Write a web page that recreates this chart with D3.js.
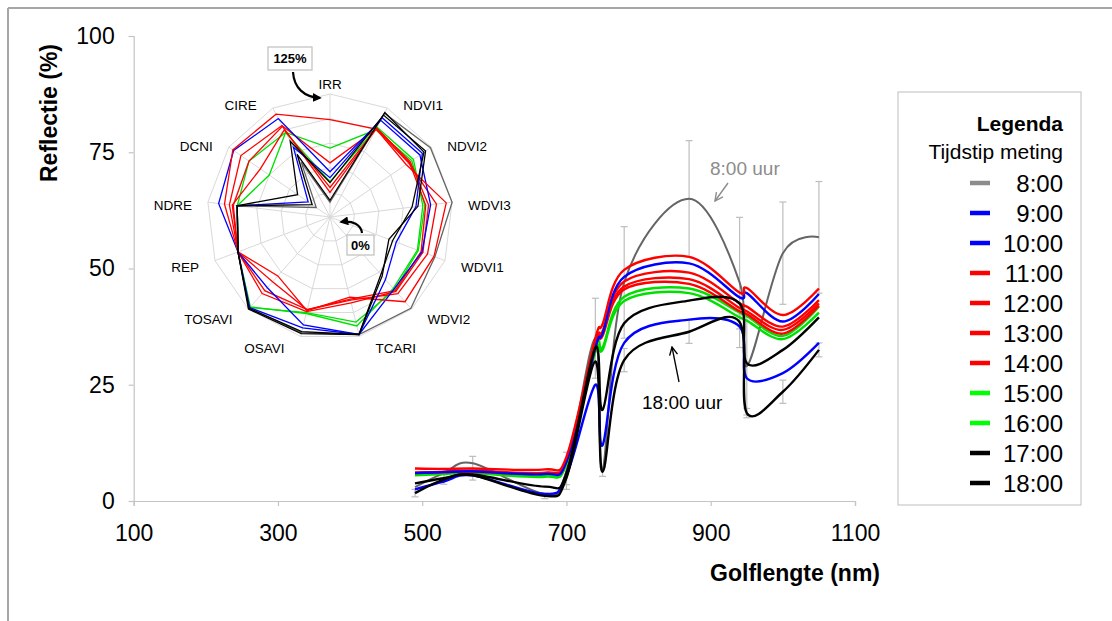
<!DOCTYPE html>
<html><head><meta charset="utf-8">
<script src="https://cdn.jsdelivr.net/npm/d3@7"></script>
<style>
html,body{margin:0;padding:0;background:#fff;}
svg{display:block;font-family:"Liberation Sans",Arial,sans-serif;}
</style></head><body>
<svg id="chart" width="1112" height="621"></svg>
<script>
// ---------- DATA ----------
const wavelengths = [490, 530, 570, 670, 700, 740, 750, 780, 870, 940, 950, 1000, 1050];
const times = ["8:00","9:00","10:00","11:00","12:00","13:00","14:00","15:00","16:00","17:00","18:00"];
const seriesColors = ["#656565","#0000ff","#0000ff","#ff0000","#ff0000","#ff0000","#ff0000","#00e000","#00e000","#000000","#000000"];
const legendColors = ["#8c8c8c","#0000ff","#0000ff","#ff0000","#ff0000","#ff0000","#ff0000","#00ff00","#00ff00","#000000","#000000"];

const refl_0800 = [3.0, 6.0, 8.1, 1.5, 6.5, 35, 6.5, 47, 65, 47, 29, 53.3, 56.7];
const refl_0900 = [2.5, 4.2, 5.5, 1.5, 5.5, 25, 12, 34, 39, 37.5, 26.4, 27.5, 34];
const refl_1000 = [6.0, 6.2, 6.4, 5.8, 8.5, 33, 36, 48.2, 51.1, 43.8, 44.7, 38.6, 44.5];
const refl_1100 = [7.0, 6.9, 7.0, 6.8, 9.5, 35, 38, 49.7, 52.5, 44.8, 45.8, 40, 45.7];
const refl_1200 = [6.1, 6.3, 6.5, 6.1, 9.0, 34, 36.5, 47.2, 49.1, 42.5, 41.8, 37.5, 43.2];
const refl_1300 = [6.1, 6.2, 6.4, 6.0, 8.8, 33.5, 36, 46.1, 47.7, 41.5, 40.8, 36.8, 42.5];
const refl_1400 = [6.0, 6.2, 6.3, 5.9, 8.6, 33, 35.5, 45.5, 46.7, 40.8, 40.2, 36, 42];
const refl_1500 = [5.7, 6.0, 6.2, 5.4, 8.1, 33.5, 33, 43.9, 45.7, 40.5, 39.8, 35.5, 41.8];
const refl_1600 = [5.5, 5.8, 6.0, 5.2, 8.0, 32, 32.5, 43, 44.7, 39.5, 38.8, 34.8, 40.5];
const refl_1700 = [3.8, 4.9, 5.7, 3.1, 6.0, 33, 19.6, 38.2, 43.1, 42.5, 29.6, 32.5, 39.5];
const refl_1800 = [1.7, 4.6, 5.5, 1.1, 5.0, 30, 6.3, 30.3, 36.4, 38.5, 18.9, 23.5, 32.5];

const err_0800 = [0, 1, 1.5, 0, 4, 8.6, 0, 12, 12.5, 14, 10.5, 11, 12];
const err_1800 = [0.8, 1, 1, 0.6, 1.5, 0, 1, 2.5, 2.5, 1.5, 1, 2.5, 1.5];

const xTicks = [100, 300, 500, 700, 900, 1100];
const yTicks = [0, 25, 50, 75, 100];

const radarAxes = ["IRR","NDVI1","NDVI2","WDVI3","WDVI1","WDVI2","TCARI","OSAVI","TOSAVI","REP","NDRE","DCNI","CIRE"];
const radarRings = [25, 50, 75, 100, 125];
const radar_0800 = [15, 119, 124, 125, 114, 124, 123, 121, 124, 100, 95, 17, 63];
const radar_0900 = [40, 114, 114, 88, 72, 85, 123, 116, 123, 100, 95, 27, 80];
const radar_1000 = [46, 111, 111, 103, 100, 98, 123, 113, 96, 100, 114, 119, 113];
const radar_1100 = [99, 101, 94, 119, 113, 115, 84, 98, 80, 100, 108, 120, 118];
const radar_1200 = [55, 101, 97, 109, 106, 104, 87, 97, 88, 100, 103, 110, 105];
const radar_1300 = [25, 102, 99, 101, 101, 101, 90, 99, 104, 100, 99, 100, 104];
const radar_1400 = [30, 102, 98, 98, 99, 100, 86, 97, 100, 100, 100, 86, 100];
const radar_1500 = [70, 100, 101, 97, 96, 99, 110, 100, 123, 100, 95, 100, 97];
const radar_1600 = [36, 103, 103, 95, 95, 97, 114, 101, 122, 100, 95, 75, 97];
const radar_1700 = [35, 117, 118, 90, 64, 80, 123, 122, 125, 100, 95, 40, 87];
const radar_1800 = [17, 120, 116, 84, 68, 78, 123, 120, 124, 100, 95, 22, 72];

const reflSeries = [refl_0800, refl_0900, refl_1000, refl_1100, refl_1200, refl_1300, refl_1400, refl_1500, refl_1600, refl_1700, refl_1800];
const radarSeries = [radar_0800, radar_0900, radar_1000, radar_1100, radar_1200, radar_1300, radar_1400, radar_1500, radar_1600, radar_1700, radar_1800];

// ---------- CHART ----------
const svg = d3.select("#chart");
svg.append("rect").attr("width",1112).attr("height",621).attr("fill","#fff");
svg.append("line").attr("x1",8).attr("y1",8).attr("x2",1112).attr("y2",8).attr("stroke","#a6a6a6").attr("stroke-width",2);
svg.append("line").attr("x1",8).attr("y1",8).attr("x2",8).attr("y2",621).attr("stroke","#a6a6a6").attr("stroke-width",2);

const x = d3.scaleLinear().domain([100,1100]).range([133.7,855]);
const y = d3.scaleLinear().domain([0,100]).range([501,36]);

const xAxis = svg.append("g").attr("transform","translate(0,501)")
  .call(d3.axisBottom(x).tickValues(xTicks).tickSize(5).tickPadding(19).tickFormat(d3.format("d")));
const yAxis = svg.append("g").attr("transform","translate(133.7,0)")
  .call(d3.axisLeft(y).tickValues(yTicks).tickSize(5).tickPadding(14));
[xAxis,yAxis].forEach(a=>{
  a.selectAll("path,line").attr("stroke","#c4c4c4").attr("stroke-width",1.2);
  a.selectAll("text").attr("font-size",23).attr("fill","#000").attr("font-family","Liberation Sans, Arial, sans-serif");
});

svg.append("text").attr("x",880).attr("y",581).attr("text-anchor","end")
  .attr("font-size",23).attr("font-weight","bold").text("Golflengte (nm)");
svg.append("text").attr("transform","translate(57,113) rotate(-90)").attr("text-anchor","middle")
  .attr("font-size",23).attr("font-weight","bold").text("Reflectie (%)");

function errorBars(vals, errs){
  const g = svg.append("g").attr("stroke","#bdbdbd").attr("stroke-width",1.2);
  wavelengths.forEach((w,i)=>{
    if(!errs[i]) return;
    const cx = x(w), y1 = y(vals[i]+errs[i]), y2 = y(vals[i]-errs[i]);
    g.append("line").attr("x1",cx).attr("x2",cx).attr("y1",y1).attr("y2",y2);
    g.append("line").attr("x1",cx-3.5).attr("x2",cx+3.5).attr("y1",y1).attr("y2",y1);
    g.append("line").attr("x1",cx-3.5).attr("x2",cx+3.5).attr("y1",y2).attr("y2",y2);
  });
}
errorBars(refl_0800, err_0800);
errorBars(refl_1800, err_1800);

const line = d3.line().x((d,i)=>x(wavelengths[i])).y(d=>y(d)).curve(d3.curveCardinal.tension(0));
const order = [0,7,8,6,5,4,2,3,1,9,10];
order.forEach(k=>{
  svg.append("path").attr("d",line(reflSeries[k])).attr("fill","none")
    .attr("stroke",seriesColors[k]).attr("stroke-width",k===0?2:2.4);
});

const defs = svg.append("defs");
function openArrow(id,color){
  defs.append("marker").attr("id",id).attr("viewBox","0 0 10 10").attr("refX",9).attr("refY",5)
    .attr("markerWidth",10).attr("markerHeight",10).attr("markerUnits","userSpaceOnUse").attr("orient","auto")
    .append("path").attr("d","M1,1 L9,5 L1,9").attr("fill","none").attr("stroke",color).attr("stroke-width",1.4);
}
openArrow("arrGray","#8c8c8c");
openArrow("arrBlack","#000");
defs.append("marker").attr("id","arrSolid").attr("viewBox","0 0 10 10").attr("refX",8).attr("refY",5)
  .attr("markerWidth",9).attr("markerHeight",9).attr("markerUnits","userSpaceOnUse").attr("orient","auto")
  .append("path").attr("d","M0,0 L10,5 L0,10 Z").attr("fill","#000");

svg.append("text").attr("x",710).attr("y",175).attr("font-size",19).attr("fill","#8c8c8c").text("8:00 uur");
svg.append("line").attr("x1",728).attr("y1",183).attr("x2",715).attr("y2",201)
  .attr("stroke","#8c8c8c").attr("stroke-width",1.4).attr("marker-end","url(#arrGray)");
svg.append("text").attr("x",642).attr("y",409).attr("font-size",19).attr("fill","#000").text("18:00 uur");
svg.append("line").attr("x1",679).attr("y1",382).attr("x2",672).attr("y2",347)
  .attr("stroke","#000").attr("stroke-width",1.3).attr("marker-end","url(#arrBlack)");

// ---------- RADAR ----------
const cx0 = 330, cy0 = 217;
const r = d3.scaleLinear().domain([0,125]).range([0,123]);
const nAx = radarAxes.length;
const ang = i => i*2*Math.PI/nAx;
const rg = svg.append("g").attr("transform",`translate(${cx0},${cy0})`);
radarRings.forEach(v=>{
  rg.append("path").attr("d", d3.lineRadial().angle((d,i)=>ang(i)).radius(()=>r(v)).curve(d3.curveLinearClosed)(radarAxes))
    .attr("fill","none").attr("stroke","#d9d9d9").attr("stroke-width",1);
});
radarAxes.forEach((a,i)=>{
  rg.append("line").attr("x1",0).attr("y1",0)
    .attr("x2",r(125)*Math.sin(ang(i))).attr("y2",-r(125)*Math.cos(ang(i)))
    .attr("stroke","#d9d9d9").attr("stroke-width",1);
});
const rLine = d3.lineRadial().angle((d,i)=>ang(i)).radius(d=>r(d)).curve(d3.curveLinearClosed);
order.forEach(k=>{
  rg.append("path").attr("d",rLine(radarSeries[k])).attr("fill","none")
    .attr("stroke",seriesColors[k]).attr("stroke-width",1.3);
});
radarAxes.forEach((a,i)=>{
  const s = Math.sin(ang(i)), c = Math.cos(ang(i));
  let tx, ty, anchor;
  if(i===0){ tx = 0; ty = -r(125)-10; anchor="middle"; }
  else {
    tx = r(125)*s + (s>0?16:-16);
    ty = -(r(125)+8)*c + 4;
    anchor = s>0?"start":"end";
  }
  rg.append("text").attr("x",tx).attr("y",ty).attr("dy","0.35em").attr("text-anchor",anchor)
    .attr("font-size",13.5).attr("fill","#000").text(a);
});
svg.append("rect").attr("x",268).attr("y",47).attr("width",44).attr("height",23)
  .attr("fill","#fff").attr("stroke","#bfbfbf").attr("stroke-width",1.2);
svg.append("text").attr("x",290).attr("y",58.5).attr("dy","0.35em").attr("text-anchor","middle")
  .attr("font-size",13).attr("font-weight","bold").text("125%");
svg.append("path").attr("d","M293,72 C294,88 304,97 320,98").attr("fill","none")
  .attr("stroke","#000").attr("stroke-width",2.2).attr("marker-end","url(#arrSolid)");
svg.append("rect").attr("x",347).attr("y",235).attr("width",27).attr("height",20)
  .attr("fill","#fff").attr("stroke","#bfbfbf").attr("stroke-width",1.2);
svg.append("text").attr("x",360.5).attr("y",245).attr("dy","0.35em").attr("text-anchor","middle")
  .attr("font-size",13).attr("font-weight","bold").text("0%");
svg.append("path").attr("d","M362,233 C361,225 353,220 341,222").attr("fill","none")
  .attr("stroke","#000").attr("stroke-width",2.2).attr("marker-end","url(#arrSolid)");

// ---------- LEGEND ----------
const lg = svg.append("g");
lg.append("rect").attr("x",898).attr("y",92).attr("width",183).attr("height",413)
  .attr("fill","#fff").attr("stroke","#c8c8c8").attr("stroke-width",1.2);
lg.append("text").attr("x",1063).attr("y",131).attr("text-anchor","end").attr("font-size",21)
  .attr("font-weight","bold").text("Legenda");
lg.append("text").attr("x",1063).attr("y",159).attr("text-anchor","end").attr("font-size",21).text("Tijdstip meting");
times.forEach((t,i)=>{
  const yy = 183 + i*30;
  lg.append("line").attr("x1",970).attr("x2",990).attr("y1",yy).attr("y2",yy)
    .attr("stroke",legendColors[i]).attr("stroke-width",4.5);
  lg.append("text").attr("x",1063).attr("y",yy).attr("dy","0.36em").attr("text-anchor","end")
    .attr("font-size",24).text(t);
});
</script>
</body></html>
